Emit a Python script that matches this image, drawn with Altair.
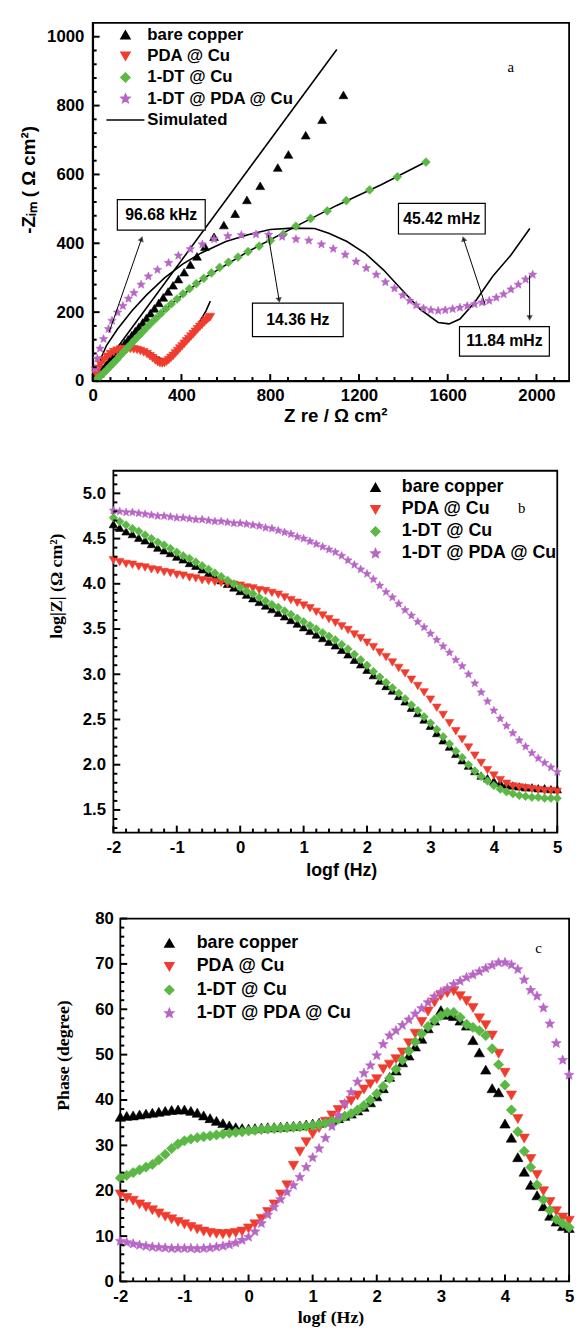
import altair as alt
import pandas as pd

SANS = "Liberation Sans"
SERIF = "Liberation Serif"

SERIES = ["bare copper", "PDA @ Cu", "1-DT @ Cu", "1-DT @ PDA @ Cu"]
SIM = "Simulated"
COLORS = ["#000000", "#f03c2e", "#5cb845", "#b866c6"]
STAR = ("M0,-1L0.265,-0.364L0.951,-0.309L0.428,0.139L0.588,0.809L0,0.45"
        "L-0.588,0.809L-0.428,0.139L-0.951,-0.309L-0.265,-0.364Z")
SHAPES = ["triangle-up", "triangle-down", "diamond", STAR]
LINE_SYMBOL = "M-4.3,0H4.3"

# ---------------- panel a : Nyquist (Z re, -Z im) ----------------
bare_zre = [1130, 1034, 960, 882, 834, 755, 695, 642, 591, 547, 506, 470, 440, 412, 386, 362, 340, 318,
            298, 278, 260, 242, 225, 208, 192, 176, 160, 145, 130, 115, 100, 86, 72, 58, 45, 32, 20]
bare_zim = [831, 759, 714, 658, 620, 567, 526, 486, 453, 419, 390, 362, 338, 316, 296, 278, 260, 243,
            227, 211, 197, 183, 170, 157, 145, 133, 121, 110, 98, 87, 76, 65, 54, 43, 33, 22, 12]

pda_zre = [15, 25, 35, 50, 65, 80, 95, 110, 125, 140, 155, 170, 185, 200, 215, 230, 245, 258, 270, 282,
           293, 303, 313, 323, 333, 343, 353, 363, 373, 383, 393, 403, 413, 423, 433, 443, 453, 463,
           473, 483, 493, 503, 513, 523, 530]
pda_zim = [20, 35, 48, 60, 70, 78, 84, 88, 91, 92, 93, 93, 92, 90, 87, 83, 78, 72, 66, 60,
           55, 52, 51, 52, 56, 61, 67, 73, 80, 87, 94, 101, 108, 115, 122, 129, 136, 143,
           150, 157, 163, 170, 176, 182, 186]

dt_zre = [1502, 1373, 1248, 1143, 1057, 982, 916, 859, 801, 750, 700, 655, 612, 572, 535, 500, 467, 436,
          407, 380, 354, 330, 307, 285, 264, 244, 225, 207, 189, 172, 155, 139, 123, 108, 93, 78, 63,
          49, 35, 22]
dt_zim = [636, 593, 555, 524, 494, 472, 450, 426, 408, 392, 376, 360, 345, 330, 314, 298, 283, 268,
          253, 238, 224, 210, 196, 182, 169, 156, 143, 131, 119, 107, 95, 84, 73, 62, 52, 42, 32,
          23, 15, 8]

dtpda_zre = [10, 21, 33, 49, 71, 87, 112, 136, 161, 186, 218, 251, 292, 342, 386, 440, 494, 547, 609,
             670, 736, 793, 854, 916, 974, 1031, 1084, 1138, 1187, 1233, 1278, 1319, 1360, 1397, 1429,
             1458, 1491, 1524, 1557, 1589, 1622, 1655, 1688, 1721, 1754, 1787, 1819, 1852, 1885, 1918,
             1951, 1983]
dtpda_zim = [36, 65, 94, 122, 151, 175, 199, 218, 239, 256, 280, 304, 323, 343, 364, 383, 397, 412, 421,
             424, 426, 425, 419, 412, 408, 397, 384, 367, 347, 328, 309, 287, 269, 249, 233,
             220, 211, 206, 204, 206, 209, 213, 218, 223, 228, 233, 242, 252, 266, 280,
             295, 309]

# simulated (fitted) curves
sim_bare_zre = [0, 1100]
sim_bare_zim = [0, 963]
sim_pda_zre = [0, 15, 40, 80, 130, 180, 220, 260, 290, 315, 340, 370, 400, 440, 480, 510, 530]
sim_pda_zim = [0, 30, 60, 85, 98, 100, 95, 83, 70, 63, 66, 78, 98, 130, 170, 203, 232]
sim_dt_zre = [0, 100, 200, 350, 500, 700, 900, 1100, 1300, 1500]
sim_dt_zim = [0, 62, 127, 222, 298, 376, 444, 510, 570, 636]
sim_dtpda_zre = [0, 30, 62, 112, 177, 243, 325, 407, 489, 600, 700, 800, 900, 1000, 1064, 1146, 1228,
                 1310, 1392, 1475, 1557, 1606, 1655, 1721, 1803, 1885, 1970]
sim_dtpda_zim = [0, 55, 103, 151, 204, 250, 300, 340, 372, 405, 425, 440, 444, 443, 429, 405, 371,
                 323, 266, 209, 170, 166, 180, 228, 304, 366, 443]

# annotation boxes (frequency labels) in data units of panel a
ann_text = ["96.68 kHz", "14.36 Hz", "45.42 mHz", "11.84 mHz"]
ann_box_x1 = [111, 720, 1378, 1653]
ann_box_x2 = [507, 1129, 1769, 2058]
ann_box_y1 = [438, 129, 427, 72]
ann_box_y2 = [527, 226, 516, 158]
arrow_x1 = [73, 791, 1769, 1969]
arrow_y1 = [140, 424, 221, 307]
arrow_x2 = [220, 840, 1671, 1969]
arrow_y2 = [413, 235, 413, 183]
arrow_angle = [19, 170, 342, 180]

# ---------------- panels b, c : Bode ----------------
logf = [-2.0, -1.9, -1.8, -1.7, -1.6, -1.5, -1.4, -1.3, -1.2, -1.1,
        -1.0, -0.9, -0.8, -0.7, -0.6, -0.5, -0.4, -0.3, -0.2, -0.1,
        0.0, 0.1, 0.2, 0.3, 0.4, 0.5, 0.6, 0.7, 0.8, 0.9,
        1.0, 1.1, 1.2, 1.3, 1.4, 1.5, 1.6, 1.7, 1.8, 1.9,
        2.0, 2.1, 2.2, 2.3, 2.4, 2.5, 2.6, 2.7, 2.8, 2.9,
        3.0, 3.1, 3.2, 3.3, 3.4, 3.5, 3.6, 3.7, 3.8, 3.9,
        4.0, 4.1, 4.2, 4.3, 4.4, 4.5, 4.6, 4.7, 4.8, 4.9, 5.0]

bare_logz = [4.66, 4.62, 4.58, 4.55, 4.51, 4.48, 4.44, 4.40, 4.37, 4.34,
             4.30, 4.27, 4.23, 4.20, 4.16, 4.12, 4.08, 4.04, 4.00, 3.96,
             3.92, 3.88, 3.84, 3.80, 3.76, 3.72, 3.68, 3.64, 3.60, 3.56,
             3.52, 3.48, 3.44, 3.40, 3.36, 3.32, 3.27, 3.22, 3.16, 3.11,
             3.05, 2.99, 2.93, 2.87, 2.82, 2.76, 2.70, 2.63, 2.57, 2.50,
             2.43, 2.35, 2.27, 2.20, 2.12, 2.05, 1.99, 1.93, 1.88, 1.85,
             1.82, 1.80, 1.78, 1.77, 1.76, 1.75, 1.75, 1.74, 1.74, 1.73, 1.73]
pda_logz = [4.26, 4.24, 4.22, 4.21, 4.19, 4.18, 4.16, 4.15, 4.13, 4.12,
            4.10, 4.09, 4.07, 4.06, 4.04, 4.03, 4.02, 4.01, 4.00, 3.99,
            3.98, 3.96, 3.95, 3.93, 3.92, 3.90, 3.88, 3.85, 3.82, 3.79,
            3.76, 3.73, 3.69, 3.65, 3.61, 3.57, 3.53, 3.49, 3.44, 3.40,
            3.35, 3.30, 3.24, 3.19, 3.13, 3.07, 3.01, 2.94, 2.87, 2.80,
            2.72, 2.63, 2.55, 2.46, 2.37, 2.28, 2.19, 2.10, 2.02, 1.94,
            1.88, 1.83, 1.79, 1.76, 1.75, 1.74, 1.73, 1.72, 1.71, 1.71, 1.70]
dt_logz = [4.73, 4.69, 4.65, 4.61, 4.58, 4.54, 4.50, 4.46, 4.43, 4.39,
           4.35, 4.31, 4.28, 4.24, 4.20, 4.16, 4.12, 4.08, 4.04, 4.00,
           3.96, 3.92, 3.89, 3.85, 3.81, 3.77, 3.74, 3.70, 3.66, 3.62,
           3.58, 3.54, 3.50, 3.46, 3.42, 3.38, 3.33, 3.28, 3.22, 3.16,
           3.10, 3.03, 2.97, 2.91, 2.85, 2.79, 2.73, 2.66, 2.60, 2.53,
           2.46, 2.39, 2.31, 2.23, 2.15, 2.08, 2.00, 1.93, 1.87, 1.82,
           1.77, 1.73, 1.70, 1.68, 1.66, 1.65, 1.64, 1.64, 1.63, 1.63, 1.63]
dtpda_logz = [4.81, 4.80, 4.79, 4.79, 4.78, 4.77, 4.76, 4.75, 4.75, 4.74,
              4.73, 4.73, 4.72, 4.71, 4.71, 4.70, 4.69, 4.69, 4.68, 4.67,
              4.67, 4.66, 4.65, 4.64, 4.62, 4.61, 4.59, 4.57, 4.55, 4.52,
              4.50, 4.47, 4.44, 4.41, 4.38, 4.35, 4.31, 4.26, 4.21, 4.16,
              4.11, 4.05, 3.98, 3.91, 3.85, 3.78, 3.71, 3.65, 3.58, 3.52,
              3.45, 3.38, 3.31, 3.24, 3.16, 3.09, 3.00, 2.90, 2.80, 2.70,
              2.60, 2.51, 2.43, 2.35, 2.27, 2.20, 2.13, 2.07, 2.02, 1.97, 1.92]

bare_phase = [36.3, 36.5, 36.6, 36.8, 37.0, 37.2, 37.4, 37.6, 37.8, 37.9,
              37.9, 37.6, 37.2, 36.6, 36.0, 35.4, 34.9, 34.4, 34.0, 33.8,
              33.7, 33.8, 33.9, 34.0, 34.0, 34.1, 34.2, 34.3, 34.4, 34.6,
              34.8, 35.0, 35.3, 35.6, 36.0, 36.5, 37.0, 37.7, 38.5, 39.5,
              40.8, 42.6, 45.1, 46.5, 48.3, 49.8, 51.8, 53.5, 55.8, 57.5,
              59.8, 58.8, 58.5, 57.5, 56.4, 53.2, 50.5, 46.7, 42.6, 41.7,
              34.8, 31.7, 27.4, 24.2, 21.3, 19.0, 16.6, 14.5, 13.2, 12.2, 11.8]
pda_phase = [19.2, 18.4, 17.8, 17.0, 16.4, 15.7, 15.0, 14.3, 13.7, 13.1,
             12.6, 12.0, 11.5, 11.0, 10.7, 10.5, 10.4, 10.5, 10.7, 11.0,
             11.7, 12.6, 13.8, 15.3, 17.0, 19.2, 21.2, 25.5, 28.6, 30.7,
             32.5, 33.8, 35.2, 36.6, 37.8, 38.9, 39.8, 41.0, 42.3, 43.5,
             44.6, 46.8, 47.8, 49.0, 50.5, 52.5, 54.6, 57.2, 59.5, 61.5,
             63.0, 63.6, 64.0, 62.9, 61.8, 60.3, 58.0, 56.5, 54.2, 50.2,
             46.0, 41.0, 35.8, 31.5, 27.0, 23.5, 19.9, 17.5, 15.5, 14.1, 13.4]
dt_phase = [22.8, 23.4, 24.0, 24.6, 25.2, 25.8, 26.8, 28.0, 29.3, 30.3,
            31.0, 31.4, 31.7, 31.9, 32.1, 32.3, 32.5, 32.7, 32.9, 33.0,
            33.2, 33.3, 33.5, 33.6, 33.7, 33.8, 33.9, 34.0, 34.1, 34.2,
            34.4, 34.6, 34.9, 35.3, 35.8, 36.4, 37.0, 37.8, 38.8, 40.0,
            41.4, 43.0, 44.8, 46.8, 48.8, 50.8, 52.8, 54.6, 56.2, 57.6,
            58.6, 59.3, 59.3, 58.2, 56.7, 56.0, 55.3, 54.2, 51.3, 47.8,
            43.3, 37.8, 33.0, 28.7, 25.2, 21.3, 18.0, 15.7, 13.7, 12.8, 11.9]
dtpda_phase = [8.9, 8.6, 8.3, 8.0, 7.8, 7.6, 7.5, 7.4, 7.3, 7.3,
               7.3, 7.3, 7.2, 7.3, 7.4, 7.6, 7.8, 8.1, 8.5, 9.1,
               9.8, 11.0, 12.8, 14.7, 16.4, 18.1, 19.7, 21.2, 23.0, 25.2,
               27.3, 29.3, 31.6, 34.2, 36.6, 39.2, 41.7, 44.0, 45.9, 47.6,
               49.8, 52.3, 54.2, 55.3, 56.5, 57.7, 59.0, 60.2, 61.5, 62.8,
               63.8, 64.6, 65.5, 66.2, 67.0, 67.6, 68.3, 69.0, 69.7, 70.3,
               70.3, 69.8, 68.8, 66.5, 64.2, 62.9, 60.3, 56.8, 52.5, 48.8, 45.5]

# axis tick positions (major ones carry labels)
a_x_major = list(range(0, 2001, 400))
a_x_minor = [v for v in range(80, 2147, 80) if v % 400]
a_y_major = list(range(0, 1001, 200))
a_y_minor = [v for v in range(40, 1001, 40) if v % 200]
f_major = [-2, -1, 0, 1, 2, 3, 4, 5]
f_minor = [round(-2 + 0.2 * i, 1) for i in range(36) if i % 5]
b_y_major = [1.5, 2.0, 2.5, 3.0, 3.5, 4.0, 4.5, 5.0]
b_y_minor = [round(1.3 + 0.1 * i, 1) for i in range(40) if (i + 3) % 5]
c_y_major = list(range(0, 81, 10))
c_y_minor = [v for v in range(2, 80, 2) if v % 10]

TICK_W = 2
MAJ, MIN = 7, 4   # tick lengths in pixels


# ---------------- helpers ----------------
def series_frame(xs_list, ys_list):
    rows = []
    for name, xs, ys in zip(SERIES, xs_list, ys_list):
        for xv, yv in zip(xs, ys):
            rows.append({"series": name, "x": xv, "y": yv})
    return pd.DataFrame(rows)


def label_axis(values, label_expr, label_pad, offset=0, domain=True,
               title=None, title_font=SANS, title_size=17, title_x=0, title_y=0):
    kw = dict(values=values, labelExpr=label_expr, ticks=False, labelPadding=label_pad,
              labelOverlap=False, labelFlush=False, offset=offset, domain=domain, grid=False)
    if title is None:
        kw["title"] = None
    else:
        kw.update(title=title, titleFont=title_font, titleFontSize=title_size,
                  titleFontWeight="bold", titleX=title_x, titleY=title_y,
                  titleAlign="center", titleBaseline="middle")
    return alt.Axis(**kw)


def x_ticks(values, xenc, yenc, y0, px, px_per_unit):
    """Inward ticks on the bottom edge: a short vertical segment from y0, px pixels long."""
    n = len(values)
    df = pd.DataFrame({"x": values, "y": [y0] * n, "y2": [y0 + px / px_per_unit] * n})
    return alt.Chart(df).mark_rule(color="black", strokeWidth=TICK_W).encode(
        x=xenc, y=yenc, y2=alt.Y2("y2:Q"))


def y_ticks(values, xenc, yenc, x0, px, px_per_unit):
    """Inward ticks on the left edge."""
    n = len(values)
    df = pd.DataFrame({"y": values, "x": [x0] * n, "x2": [x0 + px / px_per_unit] * n})
    return alt.Chart(df).mark_rule(color="black", strokeWidth=TICK_W).encode(
        x=xenc, y=yenc, x2=alt.X2("x2:Q"))


def legend(lx, ly, row_pad, label_offset, font_size):
    return alt.Legend(
        title=None, orient="none", legendX=lx, legendY=ly, padding=0,
        rowPadding=row_pad, labelOffset=label_offset,
        labelFont=SANS, labelFontSize=font_size, labelFontWeight="bold", labelColor="black",
        labelLimit=400, symbolSize=80, symbolStrokeWidth=1.6,
    )


def point_layer(df, xenc, yenc, dom, cols, shapes, lg, size):
    return alt.Chart(df).mark_point(filled=True, size=size, strokeWidth=0.6, opacity=1).encode(
        x=xenc, y=yenc,
        fill=alt.Fill("series:N", scale=alt.Scale(domain=dom, range=cols), legend=lg),
        stroke=alt.Stroke("series:N", scale=alt.Scale(domain=dom, range=cols), legend=lg),
        shape=alt.Shape("series:N", scale=alt.Scale(domain=dom, range=shapes), legend=lg),
    )


def rotated_title(text, xv, yv, xenc, yenc, font, size):
    return alt.Chart(pd.DataFrame({"x": [xv], "y": [yv], "t": [text]})).mark_text(
        angle=270, align="center", baseline="middle", font=font, fontSize=size,
        fontWeight="bold", color="black").encode(x=xenc, y=yenc, text="t:N")


def letter(text, xv, yv, xenc, yenc):
    return alt.Chart(pd.DataFrame({"x": [xv], "y": [yv], "t": [text]})).mark_text(
        font=SERIF, fontSize=15, color="black").encode(x=xenc, y=yenc, text="t:N")


PLAIN = "'' + datum.value"

# ---------------- panel a ----------------
A_W, A_H = 483, 363
A_XD, A_YD = [0, 2147], [0, 1040]
A_KX, A_KY = A_W / (A_XD[1] - A_XD[0]), A_H / (A_YD[1] - A_YD[0])
xa_axis = label_axis(a_x_major, PLAIN, 7, title="Z re / \u03a9 cm\u00b2", title_font=SANS,
                     title_size=19, title_x=246, title_y=35)
ya_axis = label_axis(a_y_major, PLAIN, 9)
XA = alt.X("x:Q", scale=alt.Scale(domain=A_XD, nice=False, zero=False), axis=xa_axis)
YA = alt.Y("y:Q", scale=alt.Scale(domain=A_YD, nice=False, zero=False), axis=ya_axis)

pts_a = series_frame([bare_zre, pda_zre, dt_zre, dtpda_zre], [bare_zim, pda_zim, dt_zim, dtpda_zim])
sim_rows = []
for name, xs, ys in zip(SERIES, [sim_bare_zre, sim_pda_zre, sim_dt_zre, sim_dtpda_zre],
                        [sim_bare_zim, sim_pda_zim, sim_dt_zim, sim_dtpda_zim]):
    for i, (xv, yv) in enumerate(zip(xs, ys)):
        sim_rows.append({"curve": name, "i": i, "x": xv, "y": yv})
sim_a = pd.DataFrame(sim_rows)

boxes = pd.DataFrame({"x": ann_box_x1, "x2": ann_box_x2, "y": ann_box_y1, "y2": ann_box_y2})
box_labels = pd.DataFrame({
    "x": [(a + b) / 2 for a, b in zip(ann_box_x1, ann_box_x2)],
    "y": [(a + b) / 2 for a, b in zip(ann_box_y1, ann_box_y2)],
    "text": ann_text})
arrows = pd.DataFrame({"x": arrow_x1, "y": arrow_y1, "x2": arrow_x2, "y2": arrow_y2})
heads = pd.DataFrame({"x": arrow_x2, "y": arrow_y2, "ang": arrow_angle})

lg_a = legend(24.7, 3.5, 3.6, 13.7, 17)
a_sim = alt.Chart(sim_a).mark_line(color="black", strokeWidth=1.6).encode(
    x=XA, y=YA, detail="curve:N", order="i:Q")
a_pts = point_layer(pts_a, XA, YA, SERIES + [SIM], COLORS + ["#000000"], SHAPES + [LINE_SYMBOL], lg_a, 80)
a_arrows = alt.Chart(arrows).mark_rule(color="black", strokeWidth=1).encode(
    x=XA, y=YA, x2=alt.X2("x2:Q"), y2=alt.Y2("y2:Q"))
a_heads = alt.Chart(heads).mark_point(shape="triangle-up", filled=True, color="black", size=40).encode(
    x=XA, y=YA, angle=alt.Angle("ang:Q", scale=None))
a_boxes = alt.Chart(boxes).mark_rect(fill="white", stroke="black", strokeWidth=1.2).encode(
    x=XA, y=YA, x2=alt.X2("x2:Q"), y2=alt.Y2("y2:Q"))
a_text = alt.Chart(box_labels).mark_text(font=SANS, fontSize=16, fontWeight="bold", color="black").encode(
    x=XA, y=YA, text="text:N")
a_ytitle = rotated_title("-Z\u1d62\u2098 ( \u03a9 cm\u00b2)", -286, 584, XA, YA, SANS, 19)

panel_a = alt.layer(
    a_sim, a_pts, a_arrows, a_heads, a_boxes, a_text, letter("a", 1884, 911, XA, YA), a_ytitle,
    x_ticks(a_x_major, XA, YA, A_YD[0], MAJ, A_KY), x_ticks(a_x_minor, XA, YA, A_YD[0], MIN, A_KY),
    y_ticks(a_y_major, XA, YA, A_XD[0], MAJ, A_KX), y_ticks(a_y_minor, XA, YA, A_XD[0], MIN, A_KX),
).properties(width=A_W, height=A_H, view=alt.ViewBackground(stroke="black", strokeWidth=1.8))

# ---------------- panel b ----------------
B_W, B_H = 471, 363
B_XD, B_YD = [-2.326, 5], [1.2918, 5.25]
B_KX, B_KY = B_W / (B_XD[1] - B_XD[0]), B_H / (B_YD[1] - B_YD[0])
B_LEFT = 21
xb_axis = label_axis(f_major, PLAIN, 7, offset=4, domain=False, title="logf (Hz)", title_font=SANS,
                     title_size=18, title_x=252, title_y=38)
yb_axis = label_axis(b_y_major, "format(datum.value, '.1f')", 8, offset=-B_LEFT, domain=False)
XB = alt.X("x:Q", scale=alt.Scale(domain=B_XD, nice=False, zero=False), axis=xb_axis)
YB = alt.Y("y:Q", scale=alt.Scale(domain=B_YD, nice=False, zero=False), axis=yb_axis)
pts_b = series_frame([logf] * 4, [bare_logz, pda_logz, dt_logz, dtpda_logz])
frame_b = alt.Chart(pd.DataFrame({"x": [-2], "x2": [5], "y": [1.25], "y2": [5.25]})).mark_rect(
    fillOpacity=0, stroke="black", strokeWidth=1.8).encode(
    x=XB, y=YB, x2=alt.X2("x2:Q"), y2=alt.Y2("y2:Q"))
b_pts = point_layer(pts_b, XB, YB, SERIES, COLORS, SHAPES, legend(277.7, 8.0, 4.3, 17.7, 18), 75)
b_ytitle = rotated_title("log|Z| (\u03a9 cm\u00b2)", -2.886, 3.974, XB, YB, SERIF, 18)
panel_b = alt.layer(
    frame_b, b_pts, letter("b", 4.44, 4.836, XB, YB), b_ytitle,
    x_ticks(f_major, XB, YB, 1.25, MAJ, B_KY), x_ticks(f_minor, XB, YB, 1.25, MIN, B_KY),
    y_ticks(b_y_major, XB, YB, -2, MAJ, B_KX), y_ticks(b_y_minor, XB, YB, -2, MIN, B_KX),
).properties(width=B_W, height=B_H, view=alt.ViewBackground(stroke="transparent"))

# ---------------- panel c ----------------
C_W, C_H = 483, 368
C_XD, C_YD = [-2.4308, 5], [0, 80]
C_KX, C_KY = C_W / (C_XD[1] - C_XD[0]), C_H / (C_YD[1] - C_YD[0])
C_LEFT = 28
xc_axis = label_axis(f_major, PLAIN, 7, domain=False, title="logf (Hz)", title_font=SERIF,
                     title_size=18, title_x=241, title_y=37)
yc_axis = label_axis(c_y_major, PLAIN, 7, offset=-C_LEFT, domain=False)
XC = alt.X("x:Q", scale=alt.Scale(domain=C_XD, nice=False, zero=False), axis=xc_axis)
YC = alt.Y("y:Q", scale=alt.Scale(domain=C_YD, nice=False, zero=False), axis=yc_axis)
pts_c = series_frame([logf] * 4, [bare_phase, pda_phase, dt_phase, dtpda_phase])
frame_c = alt.Chart(pd.DataFrame({"x": [-2], "x2": [5], "y": [0], "y2": [80]})).mark_rect(
    fillOpacity=0, stroke="black", strokeWidth=1.8).encode(
    x=XC, y=YC, x2=alt.X2("x2:Q"), y2=alt.Y2("y2:Q"))
c_pts = point_layer(pts_c, XC, YC, SERIES, COLORS, SHAPES, legend(68.7, 16.0, 5.7, 18.7, 18), 110)
c_ytitle = rotated_title("Phase (degree)", -2.877, 49.8, XC, YC, SERIF, 18)
panel_c = alt.layer(
    frame_c, c_pts, letter("c", 4.523, 73.5, XC, YC), c_ytitle,
    x_ticks(f_major, XC, YC, 0, MAJ, C_KY), x_ticks(f_minor, XC, YC, 0, MIN, C_KY),
    y_ticks(c_y_major, XC, YC, -2, MAJ, C_KX), y_ticks(c_y_minor, XC, YC, -2, MIN, C_KX),
).properties(width=C_W, height=C_H, view=alt.ViewBackground(stroke="transparent"))

chart = alt.vconcat(panel_a, panel_b, panel_c, spacing=91, bounds="flush").resolve_scale(
    fill="independent", stroke="independent", shape="independent"
).properties(
    padding={"left": 19, "top": 13, "right": 0, "bottom": 0},
    background="white",
).configure_axis(
    labelFont=SANS, labelFontSize=17, labelFontWeight="bold", labelColor="black",
    domainColor="black", domainWidth=1.8, titleColor="black",
)

chart.save("out.html", embed_options={"renderer": "svg", "actions": False})
